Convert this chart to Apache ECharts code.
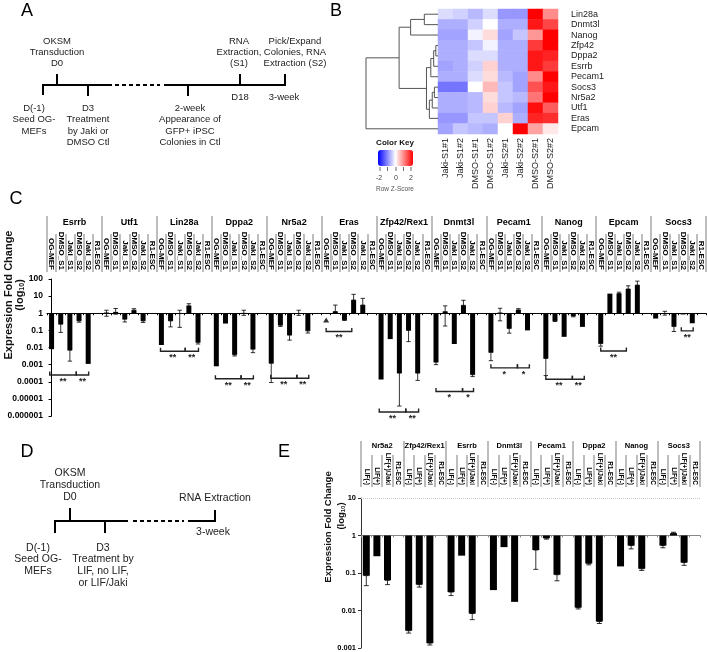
<!DOCTYPE html>
<html><head><meta charset="utf-8">
<script src="https://cdn.jsdelivr.net/npm/echarts@6/dist/echarts.min.js"></script>
<style>html,body{margin:0;padding:0;background:#fff}#c{width:708px;height:652px}</style>
</head><body><div id="c"></div>
<script>
// ---------------- Panel B (heatmap) data ----------------
const heatGenes = ['Lin28a','Dnmt3l','Nanog','Zfp42','Dppa2','Esrrb','Pecam1','Socs3','Nr5a2','Utf1','Eras','Epcam'];
const heatSamples = ['Jaki-S1#1','Jaki-S1#2','DMSO-S1#1','DMSO-S1#2','Jaki-S2#1','Jaki-S2#2','DMSO-S2#1','DMSO-S2#2'];
const zLin28a = [-0.3,-0.4,-0.6,-0.3,-0.9,-0.9, 2.2, 1.0];
const zDnmt3l = [-0.7,-0.7,-0.4, 0.0,-0.7,-0.7, 2.0, 1.6];
const zNanog  = [-0.8,-0.8,-0.1, 0.3,-0.8,-0.5, 0.9, 2.3];
const zZfp42  = [-0.7,-0.7,-0.5,-0.1,-0.7,-0.7, 1.7, 2.2];
const zDppa2  = [-0.7,-0.7,-0.3,-0.3,-0.7,-0.7, 2.0, 1.9];
const zEsrrb  = [-0.8,-0.7,-0.4, 0.4,-0.7,-0.7, 2.0, 1.7];
const zPecam1 = [-0.7,-0.7,-0.3, 0.3,-0.6,-0.8, 1.0, 2.3];
const zSocs3  = [-1.2,-1.2, 0.0, 0.6,-0.5,-0.8, 1.5, 2.0];
const zNr5a2  = [-0.7,-0.7,-0.6, 0.3,-0.5,-0.6, 1.2, 2.2];
const zUtf1   = [-0.7,-0.7,-0.6, 0.4,-0.6,-0.8, 2.1, 1.4];
const zEras   = [-0.9,-0.9,-0.5,-0.5, 0.4,-0.7, 1.9, 1.8];
const zEpcam  = [-0.8,-0.5,-0.6,-0.7, 0.0, 2.3, 0.8, 0.2];
const zRows = [zLin28a,zDnmt3l,zNanog,zZfp42,zDppa2,zEsrrb,zPecam1,zSocs3,zNr5a2,zUtf1,zEras,zEpcam];
// dendrogram merges: [nodeA, nodeB, height]; leaves are 0..11, new nodes 12..
const dendroMerges = [[0,1,0.19],[12,2,0.38],[3,4,0.03],[14,5,0.06],[15,6,0.10],[7,8,0.05],[17,9,0.08],[18,10,0.12],[16,19,0.16],[13,20,0.54],[21,11,1.0]];
const colorKeyTicks = ['-2','0','2'];

// ---------------- Panel C data ----------------
const genesC = ['Esrrb','Utf1','Lin28a','Dppa2','Nr5a2','Eras','Zfp42/Rex1','Dnmt3l','Pecam1','Nanog','Epcam','Socs3'];
const condsC = ['OG-MEF','DMSO_S1','Jaki_S1','DMSO_S2','Jaki_S2','R1-ESC'];
const ogMefC  = [0.008, 1.1, 0.014, 0.0008, 0.0012, null, 0.000135, 0.0014, 0.0052, 0.0023, 0.017, 0.49];
const dmsoS1C = [0.23, 1.2, 0.36, 0.25, 0.2, 1.25, 0.031, 1.3, 1.1, 0.36, 14, 1.0];
const jakiS1C = [0.007, 0.45, 0.9, 0.0038, 0.053, 0.41, 0.00032, 0.016, 0.13, 0.042, 14, 0.17];
const dmsoS2C = [0.36, 1.5, 2.7, 1.05, 1.0, 5.9, 0.10, 2.9, 1.56, 0.7, 26, 0.85];
const jakiS2C = [0.0011, 0.36, 0.02, 0.008, 0.094, 3.0, 0.00032, 0.00026, 0.10, 0.16, 44, 0.26];
const r1EscC  = [1,1,1,1,1,1,1,1,1,1,1,1];
const ogMefErrC  = [null,[0.67,1.5],null,null,[0.00009,0.0012],null,null,[0.001,0.0014],[0.0017,0.0052],[0.00023,0.0023],[0.012,0.017],null];
const dmsoS1ErrC = [[0.076,0.23],[0.88,1.9],[0.16,0.36],null,[0.17,0.2],[1.25,3.0],null,[0.18,2.7],[0.36,1.95],[0.33,0.36],null,[0.78,1.3]];
const jakiS1ErrC = [[0.0016,0.007],[0.31,0.45],[0.15,1.5],[0.0032,0.0038],[0.027,0.053],[0.38,0.41],[0.0000038,0.00032],null,[0.069,0.13],null,[14,17],[0.086,0.17]];
const dmsoS2ErrC = [[0.30,0.36],[1.5,1.85],[2.7,3.6],[0.75,1.5],[0.75,1.5],[5.9,12.7],[0.022,0.10],[2.9,5.7],[1.56,1.85],[0.62,0.7],[26,40],null];
const jakiS2ErrC = [null,[0.29,0.36],[0.016,0.02],[0.005,0.008],[0.07,0.094],[3.0,7.4],[0.00012,0.00032],[0.0002,0.00026],null,null,[44,75],null];
const r1EscErrC  = [null,null,null,null,null,null,null,null,null,null,null,null];
const erasOgMefMarker = 0.4; // triangle marker shown for Eras OG-MEF
// significance brackets: [geneIndex, fromCond, toCond, level, label]
const bracketsC = [
  [0,-0.2,2.7,0.00025,'**'],[0,2.7,4.05,0.00025,'**'],
  [2,-0.1,2.6,0.006,'**'],[2,2.6,4.05,0.006,'**'],
  [3,-0.1,2.7,0.00015,'**'],[3,2.7,4.05,0.00015,'**'],
  [4,-0.05,2.8,0.00016,'**'],[4,2.8,4.1,0.00016,'**'],
  [5,0,2.8,0.086,'**'],
  [6,-0.2,2.7,0.0000017,'**'],[6,2.7,4.1,0.0000017,'**'],
  [7,0,2.9,0.000027,'*'],[7,2.9,4.1,0.000027,'*'],
  [8,0,2.9,0.00065,'*'],[8,2.9,4.2,0.00065,'*'],
  [9,0,2.9,0.00014,'**'],[9,2.9,4.2,0.00014,'**'],
  [10,0,2.8,0.0062,'**'],
  [11,2.8,4.1,0.094,'**']
];

// ---------------- Panel E data ----------------
const genesE = ['Nr5a2','Zfp42/Rex1','Esrrb','Dnmt3l','Pecam1','Dppa2','Nanog','Socs3'];
const condsE = ['LIF(-)','LIF(+)','LIF(+)/Jaki','R1-ESC'];
const lifMinusE = [0.085, 0.0029, 0.031, 0.035, 0.41, 0.012, 0.15, 0.54];
const lifPlusE  = [0.28, 0.049, 0.29, 0.49, 0.85, 0.18, 0.54, 1.15];
const lifJakiE  = [0.064, 0.00135, 0.0083, 0.017, 0.09, 0.0051, 0.13, 0.19];
const r1EscE    = [1,1,1,1,1,1,1,1];
const lifMinusErrE = [[0.046,0.085],[0.0025,0.0029],[0.025,0.031],null,[0.125,0.41],[0.011,0.012],null,[0.47,0.54]];
const lifPlusErrE  = [null,[0.042,0.049],null,null,[0.8,0.85],[0.165,0.18],[0.44,0.54],[1.15,1.22]];
const lifJakiErrE  = [[0.049,0.064],[0.0012,0.00135],[0.0057,0.0083],null,[0.062,0.09],[0.0045,0.0051],[0.117,0.13],[0.16,0.19]];
const r1EscErrE    = [null,null,null,null,null,null,null,null];

// ---------------- build ----------------
const FONT = '"Liberation Sans", Arial, Helvetica, sans-serif';
const lg = v => (v == null ? null : Math.log10(v));
function logLabel(v){ if (v >= 0) return String(Math.round(Math.pow(10, v))); return '0.' + '0'.repeat(-v - 1) + '1'; }

function buildGroups(genes, condArrays, errArrays){
  const cats = [], condLabels = [], bars = [], errs = [];
  genes.forEach((g, gi) => {
    condArrays.forEach((arr, ci) => {
      const idx = cats.length;
      cats.push(g + '|' + ci);
      bars.push(lg(arr[gi]));
      const e = errArrays[ci][gi];
      if (e) errs.push([idx, lg(e[0]), lg(e[1])]);
    });
  });
  return {cats, bars, errs};
}
const C = buildGroups(genesC, [ogMefC,dmsoS1C,jakiS1C,dmsoS2C,jakiS2C,r1EscC], [ogMefErrC,dmsoS1ErrC,jakiS1ErrC,dmsoS2ErrC,jakiS2ErrC,r1EscErrC]);
const E = buildGroups(genesE, [lifMinusE,lifPlusE,lifJakiE,r1EscE], [lifMinusErrE,lifPlusErrE,lifJakiErrE,r1EscErrE]);
const condLabelsC = []; genesC.forEach(() => condsC.forEach(c => condLabelsC.push(c)));
const condLabelsE = []; genesE.forEach(() => condsE.forEach(c => condLabelsE.push(c)));
const nC = condsC.length;
const bracketData = bracketsC.map(b => [b[0]*nC + b[1], b[0]*nC + b[2], lg(b[3])]);

const heatData = [];
zRows.forEach((row, r) => row.forEach((z, c) => heatData.push([c, r, z])));
const nodeY = heatGenes.map((_, i) => i), nodeH = heatGenes.map(() => 0), dendroLines = [];
dendroMerges.forEach(([a, b, h]) => {
  dendroLines.push({coords: [[nodeH[a], nodeY[a]], [h, nodeY[a]], [h, nodeY[b]], [nodeH[b], nodeY[b]]]});
  nodeY.push((nodeY[a] + nodeY[b]) / 2); nodeH.push(h);
});

function errRender(cap){
  return function(params, api){
    const x = api.value(0);
    const p1 = api.coord([x, api.value(1)]), p2 = api.coord([x, api.value(2)]);
    const st = {stroke:'#000', lineWidth:0.8};
    return {type:'group', children:[
      {type:'line', shape:{x1:p1[0],y1:p1[1],x2:p2[0],y2:p2[1]}, style:st},
      {type:'line', shape:{x1:p1[0]-cap,y1:p1[1],x2:p1[0]+cap,y2:p1[1]}, style:st},
      {type:'line', shape:{x1:p2[0]-cap,y1:p2[1],x2:p2[0]+cap,y2:p2[1]}, style:st}
    ]};
  };
}
function bracketRender(params, api){
  const a = api.coord([api.value(0), api.value(2)]), b = api.coord([api.value(1), api.value(2)]);
  const label = bracketsC[params.dataIndex][4];
  return {type:'group', children:[
    {type:'polyline', shape:{points:[[a[0],a[1]-3.5],[a[0],a[1]],[b[0],b[1]],[b[0],b[1]-3.5]]}, style:{stroke:'#222', lineWidth:1.4, fill:null}},
    {type:'text', x:(a[0]+b[0])/2, y:a[1]+2, style:{text:label, fill:'#222', fontSize:9, fontWeight:'bold', fontFamily:FONT, align:'center', verticalAlign:'top'}}
  ]};
}

const txt = (x, y, text, size, opts) => Object.assign({type:'text', x, y, silent:true,
  style: Object.assign({text, fill:'#222', fontSize:size, fontFamily:FONT, align:'center', verticalAlign:'middle'}, (opts||{}).style||{})},
  (opts||{}).el||{});
const ln = (x1,y1,x2,y2,w,dash,color) => ({type:'line', silent:true, shape:{x1,y1,x2,y2}, style:{stroke:color||'#000', lineWidth:w||2, lineDash:dash||null}});

const graphics = [
  // panel letters
  txt(27, 11, 'A', 18, {style:{fill:'#000'}}), txt(336, 11, 'B', 18, {style:{fill:'#000'}}),
  txt(16, 199, 'C', 18, {style:{fill:'#000'}}), txt(27, 452, 'D', 18, {style:{fill:'#000'}}),
  txt(284, 452, 'E', 18, {style:{fill:'#000'}}),
  // panel A timeline
  ln(43,85,112,85), ln(115,85,160,85,2,[4,3]), ln(164,85,285,85),
  ln(43,84,43,95), ln(57,74,57,85), ln(88,85,88,96), ln(188,85,188,96), ln(240,74,240,85), ln(285,74,285,86),
  txt(57, 36, 'OKSM\nTransduction\nD0', 9.5, {style:{verticalAlign:'top', lineHeight:11}}),
  txt(239, 36, 'RNA\nExtraction,\n(S1)', 9.5, {style:{verticalAlign:'top', lineHeight:11}}),
  txt(295, 36, 'Pick/Expand\nColonies, RNA\nExtraction (S2)', 9.5, {style:{verticalAlign:'top', lineHeight:11}}),
  txt(240, 97, 'D18', 9.5), txt(284, 97, '3-week', 9.5),
  txt(34, 102.5, 'D(-1)\nSeed OG-\nMEFs', 9.5, {style:{verticalAlign:'top', lineHeight:11.5}}),
  txt(88, 102.5, 'D3\nTreatment\nby Jaki or\nDMSO Ctl', 9.5, {style:{verticalAlign:'top', lineHeight:11.5}}),
  txt(190, 102.5, '2-week\nAppearance of\nGFP+ iPSC\nColonies in Ctl', 9.5, {style:{verticalAlign:'top', lineHeight:11.5}}),
  // panel D timeline
  ln(55,521,128,521), ln(133,521,184,521,2,[4,3]), ln(188,521,215,521),
  ln(55,520,55,533), ln(70,508,70,521), ln(105,521,105,533), ln(215,510,215,522),
  txt(70, 467, 'OKSM\nTransduction\nD0', 10.5, {style:{verticalAlign:'top', lineHeight:12}}),
  txt(215, 498, 'RNA Extraction', 10.5), txt(213, 532, '3-week', 10.5),
  txt(38, 542, 'D(-1)\nSeed OG-\nMEFs', 10.5, {style:{verticalAlign:'top', lineHeight:11.7}}),
  txt(103, 542, 'D3\nTreatment by\nLIF, no LIF,\nor LIF/Jaki', 10.5, {style:{verticalAlign:'top', lineHeight:11.7}}),
  // color key
  txt(395, 143, 'Color Key', 8, {style:{fontWeight:'bold', fill:'#111'}}),
  ln(380,167,380,171,0.8,null,'#444'), ln(387.5,167,387.5,171,0.8,null,'#444'), ln(396,167,396,171,0.8,null,'#444'),
  ln(403.5,167,403.5,171,0.8,null,'#444'), ln(411,167,411,171,0.8,null,'#444'),
  txt(379, 178, colorKeyTicks[0], 7, {style:{fill:'#444'}}), txt(396, 178, colorKeyTicks[1], 7, {style:{fill:'#444'}}),
  txt(411, 178, colorKeyTicks[2], 7, {style:{fill:'#444'}}),
  txt(395, 189, 'Row Z-Score', 6.5, {style:{fill:'#555'}}),
  // axis titles
  txt(8.5, 295, 'Expression Fold Change', 11, {el:{rotation:Math.PI/2}, style:{fontWeight:'bold', fill:'#111'}}),
  txt(19.5, 295, '(log{s|10})', 11, {el:{rotation:Math.PI/2}, style:{fontWeight:'bold', fill:'#111', rich:{s:{fontSize:7, fontWeight:'bold', fontFamily:FONT, fill:'#111', padding:[5,0,0,0]}}}}),
  txt(328.5, 527, 'Expression Fold Change', 9.5, {el:{rotation:Math.PI/2}, style:{fontWeight:'bold', fill:'#111'}}),
  txt(341.5, 516, '(log{s|10})', 9.5, {el:{rotation:Math.PI/2}, style:{fontWeight:'bold', fill:'#111', rich:{s:{fontSize:6, fontWeight:'bold', fontFamily:FONT, fill:'#111', padding:[4,0,0,0]}}}})
];

const sepGray = '#a8a8a8';
const option = {
  animation: false,
  backgroundColor: '#fff',
  textStyle: {fontFamily: FONT},
  grid: [
    {left:47, top:279, width:659, height:137, containLabel:false, outerBoundsMode:'none'},
    {left:361, top:498, width:339, height:150, containLabel:false, outerBoundsMode:'none'},
    {left:438, top:9, width:120, height:125, containLabel:false, outerBoundsMode:'none'},
    {left:366, top:9, width:72, height:125, containLabel:false, outerBoundsMode:'none'}
  ],
  xAxis: [
    {gridIndex:0, type:'category', data:C.cats, position:'bottom', axisLine:{show:true, onZero:true, lineStyle:{color:'#000', width:1}},
      axisTick:{show:true, interval:0, length:2, lineStyle:{color:'#000'}}, axisLabel:{show:false}, splitLine:{show:false}},
    {gridIndex:0, type:'category', data:condLabelsC, position:'top', offset:7, axisLine:{show:false},
      axisTick:{show:true, interval:0, length:38, lineStyle:{color:sepGray, width:1.5}},
      axisLabel:{show:true, interval:0, rotate:90, margin:2, fontSize:8, fontWeight:'bold', color:'#000', fontFamily:FONT}, splitLine:{show:false}},
    {gridIndex:0, type:'category', data:genesC, position:'top', offset:7, axisLine:{show:false},
      axisTick:{show:true, interval:0, length:56, lineStyle:{color:sepGray, width:1.5}},
      axisLabel:{show:true, interval:0, margin:45, fontSize:9, fontWeight:'bold', color:'#000', fontFamily:FONT}, splitLine:{show:false}},
    {gridIndex:0, type:'value', min:-0.5, max:71.5, show:false},
    {gridIndex:1, type:'category', data:E.cats, position:'bottom', axisLine:{show:true, onZero:true, lineStyle:{color:'#888', width:1}},
      axisTick:{show:true, interval:0, length:2, lineStyle:{color:'#888'}}, axisLabel:{show:false}, splitLine:{show:false}},
    {gridIndex:1, type:'category', data:condLabelsE, position:'top', offset:11, axisLine:{show:false},
      axisTick:{show:true, interval:0, length:32, lineStyle:{color:sepGray, width:1.5}},
      axisLabel:{show:true, interval:0, rotate:90, margin:2, fontSize:6.5, fontWeight:'bold', color:'#000', fontFamily:FONT}, splitLine:{show:false}},
    {gridIndex:1, type:'category', data:genesE, position:'top', offset:11, axisLine:{show:false},
      axisTick:{show:true, interval:0, length:46, lineStyle:{color:sepGray, width:1.5}},
      axisLabel:{show:true, interval:0, margin:37, fontSize:7.5, fontWeight:'bold', color:'#000', fontFamily:FONT}, splitLine:{show:false}},
    {gridIndex:2, type:'category', data:heatSamples, position:'bottom', axisLine:{show:false}, axisTick:{show:false},
      axisLabel:{interval:0, rotate:90, margin:4, fontSize:9, color:'#222', fontFamily:FONT}, splitLine:{show:false}},
    {gridIndex:3, type:'value', min:0, max:1, inverse:true, show:false}
  ],
  yAxis: [
    {gridIndex:0, type:'value', min:-6, max:2, interval:1, axisLine:{show:true, lineStyle:{color:'#000', width:1}},
      axisTick:{show:true, length:3, lineStyle:{color:'#000'}}, splitLine:{show:false},
      axisLabel:{formatter:logLabel, fontSize:8.5, fontWeight:'bold', color:'#000', margin:4, fontFamily:FONT}},
    {gridIndex:1, type:'value', min:-3, max:1, interval:1, axisLine:{show:true, lineStyle:{color:'#333', width:1}},
      axisTick:{show:true, length:3, lineStyle:{color:'#333'}}, splitLine:{show:false},
      axisLabel:{formatter:logLabel, fontSize:7.5, fontWeight:'bold', color:'#000', margin:5, fontFamily:FONT}},
    {gridIndex:2, type:'category', data:heatGenes, inverse:true, position:'right', axisLine:{show:false}, axisTick:{show:false},
      axisLabel:{interval:0, margin:13, fontSize:9, color:'#222', fontFamily:FONT}, splitLine:{show:false}},
    {gridIndex:3, type:'value', min:-0.5, max:11.5, inverse:true, show:false}
  ],
  visualMap: [{
    type:'continuous', min:-2.2, max:2.2, seriesIndex:0, orient:'horizontal', left:378, top:150,
    itemWidth:16, itemHeight:35, calculable:false, text:null, padding:0, hoverLink:false,
    inRange:{color:['#0000ff','#ffffff','#ff0000']}
  }],
  graphic: graphics,
  series: [
    {type:'heatmap', xAxisIndex:7, yAxisIndex:2, data:heatData, itemStyle:{borderWidth:0}, emphasis:{disabled:true}},
    {type:'lines', coordinateSystem:'cartesian2d', xAxisIndex:8, yAxisIndex:3, polyline:true, data:dendroLines,
      lineStyle:{color:'#555', width:1, opacity:1}, silent:true},
    {type:'bar', xAxisIndex:0, yAxisIndex:0, data:C.bars, barWidth:5, itemStyle:{color:'#000'}, silent:true},
    {type:'custom', xAxisIndex:0, yAxisIndex:0, data:C.errs, encode:{x:0, y:[1,2]}, renderItem:errRender(2.2), silent:true, z:3},
    {type:'scatter', xAxisIndex:0, yAxisIndex:0, data:[[5*nC, lg(erasOgMefMarker)]], symbol:'triangle', symbolSize:[6,5], itemStyle:{color:'#000'}, silent:true},
    {type:'custom', xAxisIndex:3, yAxisIndex:0, data:bracketData, encode:{x:[0,1], y:2}, renderItem:bracketRender, silent:true, z:3},
    {type:'bar', xAxisIndex:4, yAxisIndex:1, data:E.bars, barWidth:7, itemStyle:{color:'#000'}, silent:true,
      markLine:{silent:true, symbol:'none', label:{show:false}, lineStyle:{color:'#c8c8c8', type:'dotted', width:1}, data:[{yAxis:1}]}},
    {type:'custom', xAxisIndex:4, yAxisIndex:1, data:E.errs, encode:{x:0, y:[1,2]}, renderItem:errRender(2.5), silent:true, z:3}
  ]
};
const chart = echarts.init(document.getElementById('c'), null, {renderer:'canvas', width:708, height:652});
chart.setOption(option);
</script>
</body></html>
